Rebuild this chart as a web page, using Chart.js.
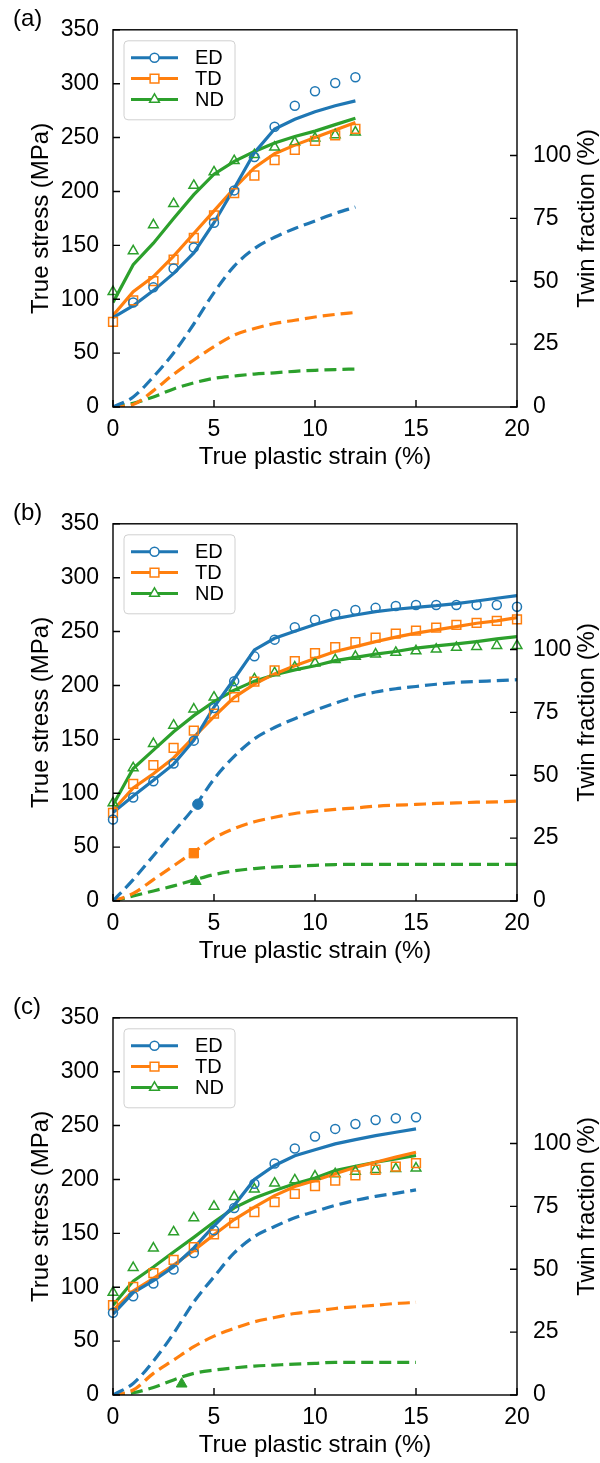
<!DOCTYPE html>
<html>
<head>
<meta charset="utf-8">
<script src="https://cdn.jsdelivr.net/npm/chart.js@4.4.1/dist/chart.umd.min.js"></script>
<style>
html, body { margin: 0; padding: 0; background: #fff; overflow: hidden; width: 600px; height: 1463px; }
canvas { position: absolute; left: 0; }
</style>
</head>
<body>
<canvas id="ca" width="600" height="494" style="top:0"></canvas>
<canvas id="cb" width="600" height="494" style="top:494px"></canvas>
<canvas id="cc" width="600" height="494" style="top:988px"></canvas>
<script>
// Stress-strain (solid = model, markers = experiment) and twin fraction (dashed, right axis).
const FONT = '"Liberation Sans", Arial, sans-serif';
const KEYS = ['ED', 'TD', 'ND'];
const COLOR = { ED: '#1f77b4', TD: '#ff7f0e', ND: '#2ca02c' };
const MARK = { ED: 'circle', TD: 'rect', ND: 'triangle' };
const RAD = { ED: 4.5, TD: 6.2, ND: 5.6 };
const RAD_FILLED = { ED: 5.2, TD: 6.6, ND: 6.2 };

const xTicks = [0, 5, 10, 15, 20];
const stressTicks = [0, 50, 100, 150, 200, 250, 300, 350];
const twinTicks = [0, 25, 50, 75, 100];

// (a)
const strainA = [0, 1, 2, 3, 4, 5, 6, 7, 8, 9, 10, 11, 12];
const aExpED = [null, 97, 111, 128.5, 148, 171, 201, 232, 260, 279.5, 293, 300.6, 306];
const aExpTD = [79, 99, 116.7, 136.7, 157, 177.8, 198.5, 214.8, 229, 238.6, 247, 252, 258];
const aExpND = [107, 144.8, 169, 188.6, 205.5, 218, 228.5, 234, 241, 245.7, 249.4, 252.5, 255];
const aModelED = [83, 94, 108, 124, 143, 171, 203, 236, 258, 267, 274, 279.5, 284];
const aModelTD = [85, 107, 121, 140, 161, 182, 203, 222, 235, 243, 250, 257, 264];
const aModelND = [97, 132, 152, 175, 197, 216, 228, 237, 245, 251, 256, 262, 268];
const aTwinED = [0, 4, 12, 21.5, 33, 45.5, 56, 63, 67.5, 71, 74, 77, 79.5];
const aTwinTD = [0, 1, 6.5, 13, 18.7, 24, 28.6, 31.2, 33.2, 34.5, 35.8, 36.8, 37.6];
const aTwinND = [0, 1.5, 4, 7.2, 9.6, 11.4, 12.3, 13.1, 13.6, 14.2, 14.6, 14.9, 15.1];
const aFilledX = [];
const aFilledY = [];
const aFilledKey = [];

// (b)
const strainB = [0, 1, 2, 3, 4, 5, 6, 7, 8, 9, 10, 11, 12, 13, 14, 15, 16, 17, 18, 19, 20];
const bExpED = [75.6, 96, 111, 127.5, 148.8, 179, 204, 227, 242.5, 254, 261, 266, 270, 272, 273.8, 274.7, 274.7, 274.7, 274.7, 274.7, 273];
const bExpTD = [81.8, 108.6, 126, 142, 158, 173.8, 189.2, 203.5, 214, 222.5, 229.9, 235.5, 240.1, 244.4, 248.1, 250.9, 253.7, 256.2, 258, 259.9, 261.4];
const bExpND = [91, 123.5, 146, 163, 178, 189, 198, 206, 211.7, 217, 220.7, 223.8, 226.9, 229, 230.6, 232, 233.6, 235.2, 236, 237, 237];
const bModelED = [82, 97.5, 112, 127, 149, 180, 206, 233, 243.8, 250.3, 256.5, 262, 265.4, 268.5, 270.7, 272.5, 274, 276, 278.4, 280.9, 283.3];
const bModelTD = [84, 105, 118, 132.7, 152, 171, 189, 201.3, 210.7, 218.3, 225, 231.5, 236, 240.7, 244.8, 248.5, 251.5, 254.6, 257.7, 260, 263];
const bModelND = [89, 123, 140, 157, 172, 185, 195.7, 204, 210, 214.5, 218.3, 223, 226, 229, 231.5, 234.6, 236.7, 238.6, 240.7, 243.2, 245.4];
const bTwinED = [0, 8.5, 18, 27.5, 37, 48.5, 57.5, 64.5, 69, 72.5, 75.8, 78.7, 81.3, 83.1, 84.4, 85.3, 86.2, 86.9, 87.3, 87.6, 88];
const bTwinTD = [0, 3, 8.5, 14, 19.5, 25, 28.8, 31.5, 33.3, 34.8, 35.7, 36.4, 37, 37.7, 38.1, 38.4, 38.8, 39, 39.3, 39.4, 39.7];
const bTwinND = [0, 2, 4, 6, 8.3, 10.5, 12, 12.9, 13.5, 13.8, 14.2, 14.5, 14.6, 14.6, 14.6, 14.6, 14.6, 14.6, 14.6, 14.6, 14.6];
const bFilledX = [4.2, 4.0, 4.1];
const bFilledY = [38.5, 19, 7.8];
const bFilledKey = ['ED', 'TD', 'ND'];

// (c)
const strainC = [0, 1, 2, 3, 4, 5, 6, 7, 8, 9, 10, 11, 12, 13, 14, 15];
const cExpED = [76.3, 91.7, 103.4, 116.5, 131.8, 152.8, 173.5, 196, 214.8, 228.8, 239.8, 246.9, 251.5, 255.2, 256.8, 257.7];
const cExpTD = [83.3, 100.3, 113, 125.3, 137.3, 149, 159.6, 169.8, 179, 186.7, 193.8, 199, 203.7, 209, 212, 215.1];
const cExpND = [95.2, 118.2, 136.2, 151.2, 164.3, 175, 184, 191, 196.5, 199.5, 203, 205.2, 207.4, 209, 209.9, 210.5];
const cModelED = [75, 95, 106, 119, 136.5, 157, 176, 200, 213, 222, 227.5, 233, 237, 240.7, 243.8, 246.9];
const cModelTD = [78.5, 96.5, 108.3, 120.6, 134.2, 148.7, 162.8, 174.4, 185, 193.4, 199, 205.2, 211.4, 216, 220.7, 225.3];
const cModelND = [83.3, 105.7, 118.8, 132.7, 146.3, 160.5, 173.6, 182.8, 189.8, 196, 201.3, 208.3, 212.3, 216, 219.1, 222.2];
const cTwinED = [0, 4.6, 13.5, 24.5, 37, 47, 56.5, 63, 67, 70.5, 73, 75.4, 77.4, 79, 80.2, 81.6];
const cTwinTD = [0, 2, 8.6, 13.9, 19.2, 23.4, 26.5, 29.1, 30.8, 32.4, 33.3, 34.4, 35.1, 35.7, 36.4, 36.8];
const cTwinND = [0, 0.9, 3, 6, 8.6, 9.9, 10.8, 11.5, 11.9, 12.3, 12.6, 13, 13, 13, 13, 13];
const cFilledX = [3.4];
const cFilledY = [4.4];
const cFilledKey = ['ND'];

const pts = (xs, ys) => xs.map((x, i) => ({ x, y: ys[i] })).filter((p) => p.y != null);

function marker(ctx, style, x, y, r) {
  ctx.beginPath();
  if (style === 'circle') ctx.arc(x, y, r, 0, Math.PI * 2);
  else if (style === 'rect') { const s = r * Math.SQRT1_2; ctx.rect(x - s, y - s, 2 * s, 2 * s); }
  else {
    let a = 0;
    ctx.moveTo(x + Math.sin(a) * r, y - Math.cos(a) * r);
    a += Math.PI * 2 / 3; ctx.lineTo(x + Math.sin(a) * r, y - Math.cos(a) * r);
    a += Math.PI * 2 / 3; ctx.lineTo(x + Math.sin(a) * r, y - Math.cos(a) * r);
    ctx.closePath();
  }
  ctx.fill(); ctx.stroke();
}

// frame, inward ticks, legend, right title, panel tag
const decor = {
  id: 'decor',
  afterDraw(chart, args, o) {
    const ctx = chart.ctx, a = chart.chartArea, sx = chart.scales.x, sy = chart.scales.y, s2 = chart.scales.y2;
    ctx.save();
    ctx.strokeStyle = '#000'; ctx.lineWidth = 1.4;
    ctx.strokeRect(a.left, a.top, a.right - a.left, a.bottom - a.top);
    ctx.beginPath();
    for (const v of xTicks) { const p = sx.getPixelForValue(v); ctx.moveTo(p, a.bottom); ctx.lineTo(p, a.bottom - 7); }
    for (const v of stressTicks) { const p = sy.getPixelForValue(v); ctx.moveTo(a.left, p); ctx.lineTo(a.left + 7, p); }
    for (const v of twinTicks) { const p = s2.getPixelForValue(v); ctx.moveTo(a.right, p); ctx.lineTo(a.right - 7, p); }
    ctx.stroke();

    // legend
    const bx = a.left + 11, by = a.top + 11, bw = 111, bh = 79;
    ctx.beginPath();
    ctx.roundRect(bx, by, bw, bh, 4);
    ctx.fillStyle = 'rgba(255,255,255,0.85)'; ctx.fill();
    ctx.strokeStyle = '#d0d0d0'; ctx.lineWidth = 1; ctx.stroke();
    ctx.font = '20px ' + FONT; ctx.textBaseline = 'middle'; ctx.textAlign = 'left';
    KEYS.forEach((k, i) => {
      const y = by + 17 + i * 20.8;
      ctx.strokeStyle = COLOR[k]; ctx.lineWidth = 3;
      ctx.beginPath(); ctx.moveTo(bx + 7, y); ctx.lineTo(bx + 54, y); ctx.stroke();
      ctx.fillStyle = '#fff'; ctx.lineWidth = 1.5;
      marker(ctx, MARK[k], bx + 30.5, y, RAD[k]);
      ctx.fillStyle = '#000';
      ctx.fillText(k, bx + 71, y + 1);
    });

    // right axis title, reading bottom to top
    ctx.font = '24px ' + FONT; ctx.fillStyle = '#000'; ctx.textAlign = 'center';
    ctx.translate(587, (a.top + a.bottom) / 2);
    ctx.rotate(-Math.PI / 2);
    ctx.fillText('Twin fraction (%)', 0, 0);
    ctx.setTransform(1, 0, 0, 1, 0, 0);

    ctx.font = '24px ' + FONT; ctx.textAlign = 'left';
    ctx.fillText(o.tag, 13, 19);
    ctx.restore();
  }
};

function panel(id, tag, strain, exp, model, twin, fx, fy, fk) {
  const ds = [];
  fk.forEach((k, i) => ds.push({
    data: [{ x: fx[i], y: fy[i] }], yAxisID: 'y2', showLine: false,
    pointStyle: MARK[k], pointRadius: RAD_FILLED[k], pointBorderWidth: 1,
    borderColor: COLOR[k], backgroundColor: COLOR[k], clip: false,
  }));
  KEYS.forEach((k) => ds.push({
    data: pts(strain, exp[k]), yAxisID: 'y', showLine: false,
    pointStyle: MARK[k], pointRadius: RAD[k], pointBorderWidth: 1.5,
    borderColor: COLOR[k], backgroundColor: 'rgba(0,0,0,0)', clip: false,
  }));
  KEYS.forEach((k) => ds.push({
    data: pts(strain, model[k]), yAxisID: 'y', borderColor: COLOR[k],
    borderWidth: 3.2, pointRadius: 0, tension: 0,
  }));
  KEYS.forEach((k) => ds.push({
    data: pts(strain, twin[k]), yAxisID: 'y2', borderColor: COLOR[k],
    borderWidth: 3.2, borderDash: [12, 6], pointRadius: 0, cubicInterpolationMode: 'monotone',
  }));

  const tickFont = { family: FONT, size: 23 };
  const titleFont = { family: FONT, size: 24, lineHeight: 1.2 };
  return new Chart(document.getElementById(id), {
    type: 'line',
    data: { datasets: ds },
    plugins: [decor],
    options: {
      responsive: false, animation: false,
      layout: { padding: { top: 29, left: 0, right: 0, bottom: 0 } },
      plugins: { legend: { display: false }, tooltip: { enabled: false }, decor: { tag } },
      scales: {
        x: {
          type: 'linear', min: 0, max: 20,
          afterBuildTicks: (s) => { s.ticks = xTicks.map((v) => ({ value: v })); },
          afterFit: (s) => { s.height = 87; },
          grid: { display: false, drawTicks: false }, border: { display: false },
          ticks: { color: '#000', font: tickFont, padding: 9, maxRotation: 0 },
          title: { display: true, text: 'True plastic strain (%)', color: '#000', font: titleFont, padding: { top: 0, bottom: 22 } },
        },
        y: {
          type: 'linear', position: 'left', min: 0, max: 350,
          afterBuildTicks: (s) => { s.ticks = stressTicks.map((v) => ({ value: v })); },
          afterFit: (s) => { s.width = 113; },
          grid: { display: false, drawTicks: false }, border: { display: false },
          ticks: { color: '#000', font: tickFont, padding: 14 },
          title: { display: true, text: 'True stress (MPa)', color: '#000', font: titleFont, padding: { top: 27, bottom: 0 } },
        },
        y2: {
          type: 'linear', position: 'right', min: 0, max: 150,
          afterBuildTicks: (s) => { s.ticks = twinTicks.map((v) => ({ value: v })); },
          afterFit: (s) => { s.width = 83; },
          grid: { display: false, drawTicks: false }, border: { display: false },
          ticks: { color: '#000', font: tickFont, padding: 16 },
        },
      },
    },
  });
}

panel('ca', '(a)', strainA,
  { ED: aExpED, TD: aExpTD, ND: aExpND },
  { ED: aModelED, TD: aModelTD, ND: aModelND },
  { ED: aTwinED, TD: aTwinTD, ND: aTwinND },
  aFilledX, aFilledY, aFilledKey);
panel('cb', '(b)', strainB,
  { ED: bExpED, TD: bExpTD, ND: bExpND },
  { ED: bModelED, TD: bModelTD, ND: bModelND },
  { ED: bTwinED, TD: bTwinTD, ND: bTwinND },
  bFilledX, bFilledY, bFilledKey);
panel('cc', '(c)', strainC,
  { ED: cExpED, TD: cExpTD, ND: cExpND },
  { ED: cModelED, TD: cModelTD, ND: cModelND },
  { ED: cTwinED, TD: cTwinTD, ND: cTwinND },
  cFilledX, cFilledY, cFilledKey);
</script>
</body>
</html>
